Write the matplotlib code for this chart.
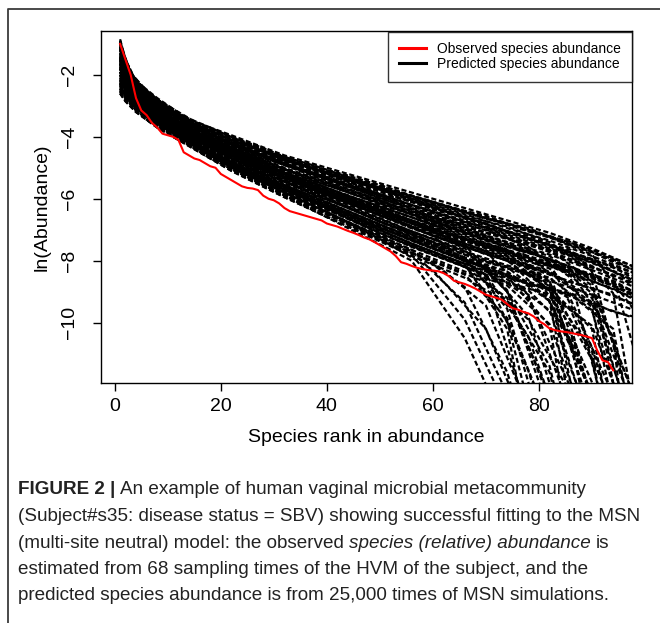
import numpy as np
import matplotlib
matplotlib.use('Agg')
import matplotlib.pyplot as plt
from matplotlib.lines import Line2D

nan = np.nan

# observed species abundance (red), one value per rank
obs_rank = list(range(1, 95))
obs_abund = [-1.0, -1.5, -2.0, -2.75, -3.15, -3.3, -3.55, -3.7, -3.9, -3.95,
             -4.0, -4.1, -4.5, -4.6, -4.7, -4.75, -4.85, -4.95, -5.0, -5.2,
             -5.3, -5.4, -5.5, -5.6, -5.65, -5.67, -5.72, -5.9, -6.0, -6.05,
             -6.15, -6.3, -6.4, -6.45, -6.5, -6.55, -6.6, -6.65, -6.7, -6.8,
             -6.85, -6.9, -6.97, -7.04, -7.1, -7.17, -7.25, -7.31, -7.4, -7.5,
             -7.6, -7.7, -7.85, -8.05, -8.1, -8.17, -8.23, -8.27, -8.3, -8.32,
             -8.34, -8.4, -8.5, -8.65, -8.7, -8.75, -8.82, -8.9, -9.0, -9.1,
             -9.15, -9.2, -9.26, -9.4, -9.53, -9.58, -9.65, -9.7, -9.8, -9.95,
             -10.05, -10.19, -10.24, -10.28, -10.3, -10.33, -10.37, -10.4, -10.45, -10.5,
             -10.9, -11.22, -11.27, -11.54]

# predicted (simulated) curves, first batch, read at these ranks
sim_rank_a = [1, 2, 4, 8, 14, 22, 32, 44, 56, 66, 74, 82, 90, 98]
sim_abund_a = [
    [-0.85, -1.5, -2.2, -2.75, -3.45, -3.95, -4.6, -5.2, -5.8, -6.3, -6.7, -7.1, -7.6, -8.2],
    [-0.95, -1.55, -2.25, -2.8, -3.5, -4.0, -4.7, -5.25, -5.9, -6.4, -6.8, -7.25, -7.7, -8.3],
    [-1.0, -1.65, -2.3, -2.85, -3.55, -4.05, -4.75, -5.35, -6.0, -6.5, -6.95, -7.35, -7.85, -8.4],
    [-1.1, -1.7, -2.3, -2.85, -3.5, -4.1, -4.7, -5.4, -6.0, -6.55, -6.9, -7.4, -8.35, -13.1],
    [-1.1, -1.7, -2.35, -2.9, -3.6, -4.1, -4.8, -5.45, -6.1, -6.6, -7.05, -7.5, -7.95, -8.5],
    [-1.2, -1.75, -2.4, -2.95, -3.6, -4.2, -4.85, -5.55, -6.2, -6.75, -7.15, -7.6, -8.05, -8.65],
    [-1.3, -1.8, -2.4, -2.95, -3.65, -4.2, -4.9, -5.5, -6.2, -6.7, -7.2, -7.65, -8.65, -15.2],
    [-1.3, -1.85, -2.45, -3.0, -3.65, -4.25, -4.9, -5.6, -6.3, -6.9, -7.3, -7.7, -8.2, -8.75],
    [-1.4, -1.9, -2.5, -3.05, -3.7, -4.3, -5.0, -5.7, -6.4, -7.0, -7.4, -7.8, -8.3, -8.85],
    [-1.5, -1.95, -2.5, -3.05, -3.75, -4.3, -5.05, -5.7, -6.45, -6.95, -7.45, -7.85, -8.8, -12.4],
    [-0.9, -1.5, -2.25, -2.8, -3.5, -4.0, -4.7, -5.35, -6.05, -6.6, -7.05, -7.5, -8.0, -8.65],
    [-1.2, -1.75, -2.4, -2.9, -3.55, -4.1, -4.75, -5.35, -5.95, -6.45, -6.8, -7.2, -7.65, -8.2],
    [-1.05, -1.65, -2.35, -2.9, -3.6, -4.15, -4.85, -5.55, -6.25, -6.8, -7.25, -8.05, -10.8, -15.4],
    [-1.4, -1.9, -2.5, -3.0, -3.65, -4.25, -4.9, -5.55, -6.2, -6.75, -7.1, -7.5, -7.95, -8.4],
    [-0.9, -1.6, -2.25, -2.8, -3.5, -4.0, -4.65, -5.3, -5.9, -6.4, -6.85, -7.25, -7.8, -9.6],
    [-1.1, -1.7, -2.4, -2.95, -3.6, -4.2, -4.9, -5.6, -6.35, -6.95, -7.4, -8.4, -12.4, nan],
    [-1.45, -1.95, -2.55, -3.1, -3.75, -4.35, -5.1, -5.8, -6.5, -7.1, -7.5, -7.95, -8.45, -9.0],
    [-1.6, -2.0, -2.55, -3.1, -3.75, -4.35, -5.05, -5.8, -6.5, -7.1, -7.55, -7.95, -9.05, -13.7],
    [-1.55, -2.05, -2.6, -3.15, -3.8, -4.4, -5.15, -5.9, -6.6, -7.2, -7.65, -8.05, -8.55, -9.1],
    [-1.7, -2.1, -2.6, -3.15, -3.8, -4.45, -5.15, -5.9, -6.6, -7.25, -7.65, -8.65, -13.0, nan],
    [-1.65, -2.1, -2.65, -3.2, -3.8, -4.5, -5.2, -6.0, -6.7, -7.3, -7.8, -8.25, -9.5, -16.0],
    [-1.5, -2.1, -2.65, -3.15, -3.85, -4.5, -5.25, -5.95, -6.7, -7.35, -7.75, -8.15, -8.65, -9.2],
    [-1.75, -2.2, -2.7, -3.2, -3.85, -4.55, -5.3, -6.05, -6.8, -7.45, -7.95, -9.3, -16.3, nan],
    [-1.9, -2.25, -2.7, -3.2, -3.9, -4.55, -5.3, -6.1, -6.8, -7.45, -7.9, -8.35, -9.2, -12.85],
    [-1.8, -2.25, -2.75, -3.25, -3.9, -4.6, -5.35, -6.1, -6.95, -7.55, -8.0, -8.45, -8.9, -9.4],
    [-2.0, -2.3, -2.75, -3.25, -3.9, -4.6, -5.35, -6.15, -6.9, -7.55, -8.0, -8.95, -12.3, nan],
    [-1.9, -2.3, -2.8, -3.3, -3.95, -4.65, -5.4, -6.2, -7.05, -7.65, -9.0, -12.5, nan, nan],
    [-2.05, -2.35, -2.8, -3.3, -3.95, -4.7, -5.45, -6.25, -7.05, -7.7, -8.15, -8.55, -9.6, -14.3],
    [-2.0, -2.4, -2.85, -3.35, -4.0, -4.7, -5.5, -6.3, -7.15, -7.75, -8.2, -9.3, -13.5, nan],
    [-2.15, -2.4, -2.85, -3.35, -4.0, -4.7, -5.45, -6.3, -7.15, -7.8, -8.25, -8.65, -9.1, -9.6],
    [-1.4, -1.95, -2.55, -3.1, -3.75, -4.4, -5.15, -5.9, -6.7, -7.35, -7.85, -8.95, -12.4, nan],
    [-1.9, -2.3, -2.8, -3.25, -3.9, -4.55, -5.3, -6.05, -6.75, -7.3, -7.7, -8.1, -8.5, -9.0],
    [-1.55, -2.05, -2.6, -3.15, -3.85, -4.45, -5.25, -6.0, -6.8, -7.5, -8.95, -12.9, nan, nan],
    [-1.75, -2.2, -2.7, -3.15, -3.8, -4.45, -5.2, -5.9, -6.6, -7.15, -7.55, -7.95, -8.9, -12.4],
    [-1.45, -2.0, -2.6, -3.1, -3.8, -4.4, -5.2, -5.95, -6.75, -7.35, -7.85, -8.7, -11.2, -17.1],
    [-1.8, -2.25, -2.75, -3.25, -3.85, -4.55, -5.3, -6.0, -6.75, -7.35, -7.75, -8.8, -15.1, nan],
    [-1.65, -2.1, -2.65, -3.2, -3.85, -4.55, -5.3, -6.1, -6.9, -7.6, -9.0, -11.4, -17.0, nan],
    [-1.9, -2.3, -2.8, -3.3, -3.95, -4.6, -5.4, -6.15, -6.95, -7.55, -8.0, -8.4, -9.35, -13.5],
    [-2.1, -2.45, -2.9, -3.4, -4.05, -4.75, -5.55, -6.4, -7.25, -7.9, -9.55, -14.3, nan, nan],
    [-2.2, -2.45, -2.9, -3.4, -4.05, -4.8, -5.6, -6.4, -7.25, -7.9, -8.35, -9.3, -12.3, nan],
    [-2.2, -2.5, -2.95, -3.45, -4.1, -4.8, -5.6, -6.5, -7.35, -8.0, -8.5, -10.1, -17.5, nan],
    [-2.3, -2.5, -2.95, -3.45, -4.1, -4.85, -5.65, -6.5, -7.35, -8.0, -8.45, -8.9, -10.2, -17.2],
    [-2.25, -2.6, -3.0, -3.5, -4.15, -4.9, -5.7, -6.55, -7.45, -8.1, -10.2, -17.2, nan, nan],
    [-2.35, -2.6, -3.0, -3.5, -4.15, -4.9, -5.7, -6.6, -7.45, -8.1, -8.6, -9.6, -13.35, nan],
    [-2.35, -2.65, -3.05, -3.55, -4.2, -4.95, -5.75, -6.65, -7.55, -8.2, -9.2, -12.35, nan, nan],
    [-2.4, -2.65, -3.05, -3.55, -4.2, -4.95, -5.75, -6.65, -7.55, -8.2, -8.7, -9.1, -10.1, -13.8],
    [-2.45, -2.7, -3.1, -3.6, -4.2, -5.0, -5.8, -6.75, -7.65, -8.85, -11.6, -16.0, nan, nan],
    [-2.5, -2.7, -3.1, -3.6, -4.25, -5.0, -5.8, -6.75, -7.65, -8.35, -8.8, -10.05, -13.8, nan],
    [-2.5, -2.75, -3.15, -3.65, -4.25, -5.05, -5.9, -6.95, -8.0, -10.5, -13.5, nan, nan, nan],
    [-2.6, -2.85, -3.2, -3.7, -4.3, -5.1, -5.95, -6.9, -7.8, -9.9, -12.8, nan, nan, nan],
    [-2.55, -2.8, -3.15, -3.65, -4.25, -5.05, -5.9, -6.8, -7.75, -8.45, -9.85, -13.2, nan, nan],
    [-2.6, -2.85, -3.2, -3.7, -4.3, -5.1, -5.95, -6.9, -7.85, -8.55, -9.35, -11.6, -17.0, nan],
    [-2.1, -2.45, -2.9, -3.45, -4.1, -4.85, -5.65, -6.55, -7.45, -8.15, -9.95, -15.3, nan, nan],
    [-2.45, -2.7, -3.1, -3.55, -4.15, -4.9, -5.7, -6.6, -7.45, -8.1, -8.55, -8.95, -10.9, -19.2],
    [-2.25, -2.6, -3.05, -3.55, -4.2, -5.0, -5.8, -6.75, -7.7, -9.35, -12.3, nan, nan, nan],
    [-2.3, -2.55, -2.95, -3.45, -4.1, -4.85, -5.6, -6.5, -7.35, -8.0, -8.5, -8.9, -9.4, -9.85],
]

# second batch of simulated curves, read at other ranks
sim_rank_b = [1, 3, 6, 11, 18, 27, 38, 50, 60, 70, 78, 86, 94, 99]
sim_abund_b = [
    [-1.0, -1.95, -2.5, -3.2, -3.7, -4.4, -4.95, -5.65, -6.1, -6.65, -6.95, -7.5, -7.95, -8.45],
    [-1.2, -1.9, -2.6, -3.1, -3.8, -4.3, -5.05, -5.55, -6.15, -6.55, -7.05, -7.4, -8.05, -8.35],
    [-1.15, -2.1, -2.6, -3.3, -3.8, -4.55, -5.05, -5.85, -6.25, -6.9, -7.2, -7.75, -8.2, -8.7],
    [-1.35, -2.0, -2.7, -3.2, -3.9, -4.45, -5.15, -5.75, -6.35, -6.8, -7.3, -7.65, -9.05, -13.9],
    [-1.3, -2.2, -2.7, -3.4, -3.9, -4.65, -5.2, -6.0, -6.5, -7.1, -7.45, -8.0, -8.45, -8.9],
    [-1.5, -2.25, -2.8, -3.3, -4.0, -4.55, -5.3, -5.9, -6.6, -7.0, -7.55, -8.55, -14.0, nan],
    [-1.45, -2.35, -2.8, -3.45, -4.0, -4.8, -5.35, -6.2, -6.7, -7.35, -7.7, -8.25, -8.65, -9.1],
    [-1.6, -2.25, -2.9, -3.35, -4.1, -4.7, -5.45, -6.1, -6.8, -7.25, -8.05, -10.6, -17.0, nan],
    [-1.65, -2.45, -2.9, -3.55, -4.1, -4.9, -5.5, -6.4, -6.9, -7.55, -7.9, -8.45, -8.9, -9.35],
    [-1.8, -2.35, -3.0, -3.45, -4.2, -4.8, -5.6, -6.3, -7.0, -7.45, -8.0, -8.35, -10.45, -17.9],
    [-1.8, -2.55, -3.0, -3.65, -4.2, -5.05, -5.65, -6.55, -7.1, -7.8, -8.15, -8.7, -9.1, -9.55],
    [-1.95, -2.45, -3.1, -3.55, -4.3, -4.95, -5.75, -6.45, -7.2, -7.7, -9.1, -12.9, nan, nan],
    [-2.0, -2.65, -3.1, -3.75, -4.3, -5.15, -5.8, -6.75, -7.3, -8.0, -8.4, -9.6, -12.7, nan],
    [-2.15, -2.55, -3.2, -3.65, -4.4, -5.05, -5.9, -6.65, -7.4, -8.45, -11.55, -16.0, nan, nan],
    [-2.15, -2.75, -3.2, -3.8, -4.45, -5.25, -6.0, -6.95, -7.55, -8.25, -9.2, -12.1, nan, nan],
    [-2.3, -2.7, -3.25, -3.75, -4.5, -5.2, -6.05, -6.9, -7.6, -8.2, -8.75, -9.1, -10.2, -14.55],
    [-2.3, -2.85, -3.35, -3.85, -4.6, -5.35, -6.15, -7.1, -7.8, -8.45, -10.45, -14.4, nan, nan],
    [-2.45, -2.85, -3.3, -3.9, -4.55, -5.4, -6.1, -7.15, -7.75, -8.5, -8.95, -10.35, -13.5, nan],
    [-2.5, -2.95, -3.45, -3.95, -4.7, -5.45, -6.35, -7.3, -8.05, -9.45, -12.8, nan, nan, nan],
    [-2.55, -2.95, -3.4, -4.0, -4.65, -5.5, -6.3, -7.35, -8.0, -8.7, -9.9, -12.3, nan, nan],
    [-1.15, -2.05, -2.7, -3.3, -3.9, -4.6, -5.3, -6.05, -6.7, -7.25, -7.7, -8.2, -8.8, -9.25],
    [-1.65, -2.4, -2.9, -3.45, -4.1, -4.75, -5.4, -6.1, -6.6, -7.1, -7.45, -7.85, -8.5, -11.5],
    [-1.8, -2.5, -3.05, -3.65, -4.3, -5.1, -5.85, -6.75, -7.45, -8.2, -9.8, -14.1, nan, nan],
    [-2.3, -2.8, -3.3, -3.8, -4.5, -5.25, -5.95, -6.85, -7.45, -8.05, -8.4, -9.25, -12.35, nan],
    [-0.95, -1.95, -2.55, -3.2, -3.8, -4.4, -5.1, -5.7, -6.3, -6.8, -7.3, -7.8, -8.35, -8.85],
    [-1.45, -2.3, -2.85, -3.45, -4.1, -4.85, -5.55, -6.4, -7.0, -7.7, -8.2, -10.1, -15.0, nan],
    [-2.0, -2.6, -3.1, -3.65, -4.3, -5.0, -5.7, -6.45, -7.0, -7.5, -7.9, -8.35, -8.8, -9.15],
    [-2.2, -2.7, -3.25, -3.7, -4.45, -5.15, -6.05, -6.85, -7.6, -8.15, -8.75, -9.05, -9.65, -9.85],
    [-1.75, -2.45, -3.0, -3.55, -4.2, -4.9, -5.65, -6.45, -7.2, -8.6, -13.0, nan, nan, nan],
    [-2.4, -2.9, -3.35, -3.9, -4.6, -5.4, -6.25, -7.3, -8.3, -10.2, -13.5, nan, nan, nan],
]

x_ticks = [0, 20, 40, 60, 80]
y_ticks = [-10, -8, -6, -4, -2]
legend_labels = ['Observed species abundance', 'Predicted species abundance']

caption_lines = [
    [('FIGURE 2 |', 'bold'), ('An example of human vaginal microbial metacommunity', 'normal')],
    [('(Subject#s35: disease status = SBV) showing successful fitting to the MSN', 'normal')],
    [('(multi-site neutral) model: the observed', 'normal'),
     ('species (relative) abundance', 'italic'), ('is', 'normal')],
    [('estimated from 68 sampling times of the HVM of the subject, and the', 'normal')],
    [('predicted species abundance is from 25,000 times of MSN simulations.', 'normal')],
]

W, H = 660, 623
plt.rcParams['font.family'] = ['Liberation Sans', 'DejaVu Sans']

fig = plt.figure(figsize=(W / 100, H / 100), dpi=100)
ax = fig.add_axes([101 / W, 1 - 382.7 / H, 530.7 / W, 351.2 / H])

for ranks, curves in [(sim_rank_a, sim_abund_a), (sim_rank_b, sim_abund_b)]:
    for curve in curves:
        ax.plot(ranks, np.array(curve, dtype=float), color='black', lw=1.6,
                linestyle=(0, (2.3, 1.2)), zorder=2)
ax.plot(obs_rank, obs_abund, color='#ff0000', lw=1.5, zorder=3)

ax.set_xlim(-2.6, 97.5)
ax.set_ylim(-11.94, -0.6)
ax.set_xticks(x_ticks)
ax.set_yticks(y_ticks)
ax.tick_params(axis='both', length=5.5, width=1, labelsize=14, color='black')
ax.tick_params(axis='x', pad=5.5)
ax.tick_params(axis='y', pad=11)
for lab in ax.get_yticklabels():
    lab.set_rotation(90)
    lab.set_va('center')
for sp in ax.spines.values():
    sp.set_linewidth(1.0)
    sp.set_color('black')
    sp.set_zorder(5)

handles = [Line2D([], [], color='#ff0000', lw=2.2),
           Line2D([], [], color='black', lw=2.2)]
leg = ax.legend(handles, legend_labels, loc='upper right', fontsize=10,
                frameon=True, fancybox=False, borderaxespad=0,
                handlelength=2.0, handletextpad=0.8, labelspacing=0.1,
                borderpad=0.75)
leg.get_frame().set_edgecolor('black')
leg.get_frame().set_linewidth(1.0)
leg.set_zorder(6)

fig.text(42 / W, 1 - 207 / H, 'ln(Abundance)', rotation=90, ha='center',
         va='center', fontsize=14)
fig.text(366 / W, 1 - 437 / H, 'Species rank in abundance', ha='center',
         va='center', fontsize=14)

# outer frame (left and top edges visible)
fig.add_artist(Line2D([8 / W, 8 / W, 1.0], [0.0, 1 - 8.7 / H, 1 - 8.7 / H],
                      transform=fig.transFigure, color='#3a3a3a', lw=1.3))

# caption, pieces placed one after another
renderer = fig.canvas.get_renderer()
cap_size = 13.6
probe1 = fig.text(0, 0, 'aa', fontsize=cap_size)
probe2 = fig.text(0, 0, 'a a', fontsize=cap_size)
space_w = (probe2.get_window_extent(renderer).width -
           probe1.get_window_extent(renderer).width)
probe1.remove()
probe2.remove()

line_y = [490, 516.5, 543, 569.5, 596]
for y, pieces in zip(line_y, caption_lines):
    x = 18
    for txt, style in pieces:
        kw = dict(fontsize=cap_size, color='#222222', va='center', ha='left')
        if style == 'bold':
            kw['fontweight'] = 'bold'
        if style == 'italic':
            kw['fontstyle'] = 'italic'
        t = fig.text(x / W, 1 - y / H, txt, **kw)
        x += t.get_window_extent(renderer).width + space_w

fig.savefig('out.png', dpi=100)
